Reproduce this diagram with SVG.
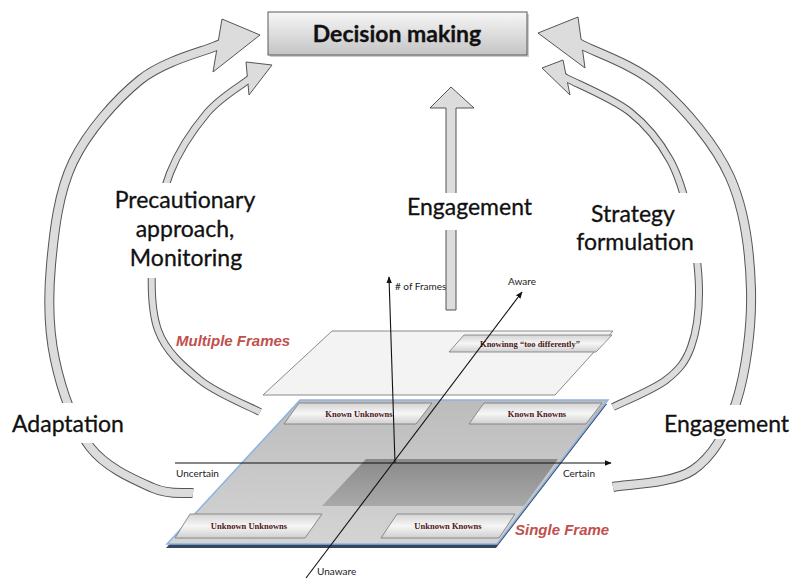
<svg xmlns="http://www.w3.org/2000/svg" width="792" height="581" viewBox="0 0 792 581">
<style>
.lbl{font-family:Lato,"Liberation Sans",sans-serif;font-size:23px;fill:#111;stroke:#111;stroke-width:0.3}
.bo{fill:none;stroke:#555;stroke-width:10;stroke-linejoin:round}
.bi{fill:none;stroke:#dcdcdc;stroke-width:8;stroke-linejoin:round}
.bo2{fill:none;stroke:#555;stroke-width:8;stroke-linejoin:round}
.bi2{fill:none;stroke:#dcdcdc;stroke-width:6;stroke-linejoin:round}
.head{fill:#dcdcdc;stroke:#555;stroke-width:1;stroke-linejoin:miter}
.gap{fill:#fff}
.tag{fill:url(#tagG);stroke:#777;stroke-width:0.8}
.tagt{font-family:"Liberation Serif",serif;font-weight:bold;font-size:8.5px;fill:#4b1515;text-anchor:middle}
.ax{stroke:#111;stroke-width:1.1;fill:none;marker-end:url(#ah)}
.axt{font-family:Lato,"Liberation Sans",sans-serif;font-size:10px;fill:#222}
.frame{font-family:"Liberation Sans",sans-serif;font-weight:bold;font-style:italic;font-size:15px;fill:#c0504d}
</style>
<defs>
<linearGradient id="boxG" x1="0" y1="0" x2="0" y2="1">
<stop offset="0" stop-color="#f7f7f7"/><stop offset="1" stop-color="#c4c4c4"/>
</linearGradient>
<linearGradient id="tagG" x1="0" y1="0" x2="0" y2="1">
<stop offset="0" stop-color="#d4d4d4"/><stop offset="0.5" stop-color="#f6f6f6"/><stop offset="1" stop-color="#d0d0d0"/>
</linearGradient>
<linearGradient id="planeG" x1="0" y1="0" x2="0" y2="1">
<stop offset="0" stop-color="#bcbcbc"/><stop offset="1" stop-color="#d4d4d4"/>
</linearGradient>
<linearGradient id="darkG" x1="0" y1="0" x2="0" y2="1">
<stop offset="0" stop-color="#8a8a8a"/><stop offset="1" stop-color="#a9a9a9"/>
</linearGradient>
<marker id="ah" viewBox="0 0 10 10" refX="9" refY="5" markerWidth="7" markerHeight="7" orient="auto" markerUnits="userSpaceOnUse">
<path d="M0,1 L10,5 L0,9 Z" fill="#111"/>
</marker>
</defs>
<rect width="792" height="581" fill="#fff"/>

<g id="single-frame">
<polygon points="299,404 607,404 496,548 166,548" fill="#34465e"/>
<polygon points="300,400 608,400 497,544 167,544" fill="url(#planeG)" stroke="#8db3e2" stroke-width="1.5"/>
<polygon points="366,459 558,459 524,506 322,506" fill="url(#darkG)"/>
<g id="tag-known-unknowns"><polygon class="tag" points="299,403 432,403 416,424 284,424"/><text class="tagt" x="359" y="417">Known Unknowns</text></g>
<g id="tag-known-knowns"><polygon class="tag" points="484,403 602,403 586,424 469,424"/><text class="tagt" x="537" y="417">Known Knowns</text></g>
<g id="tag-unknown-unknowns"><polygon class="tag" points="190,514 322,514 305,538 175,538"/><text class="tagt" x="249" y="529">Unknown Unknowns</text></g>
<g id="tag-unknown-knowns"><polygon class="tag" points="397,514 515,514 499,538 381,538"/><text class="tagt" x="448" y="529">Unknown Knowns</text></g>
<text class="frame" x="515" y="535">Single Frame</text>
</g>

<g id="multiple-frames">
<polygon points="332,331 613,331 555,395 263,395" fill="#f3f3f3" stroke="#8a8a8a" stroke-width="1"/>
<g id="tag-knowing"><polygon class="tag" points="464,335 612,335 596,352 449,352"/><text class="tagt" x="530" y="347">Knowinng “too differently”</text></g>
<text class="frame" x="176" y="346">Multiple Frames</text>
</g>

<g id="axes">
<line class="ax" x1="175" y1="463" x2="611" y2="463"/>
<line class="ax" x1="395" y1="463" x2="389" y2="277"/>
<line class="ax" x1="306" y1="578" x2="522" y2="292"/>
<text class="axt" x="176" y="477">Uncertain</text>
<text class="axt" x="563" y="477">Certain</text>
<text class="axt" x="395" y="290"># of Frames</text>
<text class="axt" x="508" y="285">Aware</text>
<text class="axt" x="317" y="575">Unaware</text>
</g>

<g id="connectors">
<g id="arrow-adaptation">
<path class="bo" d="M226,42 L216,46 C203.3,51.7 163.8,60.7 140,80 C116.2,99.3 87.8,131.2 73,162 C58.2,192.8 54,232 51,265 C48,298 48.5,329.7 55,360 C61.5,390.3 73.7,425.7 90,447 C106.3,468.3 135.8,480.3 153,488 C170.2,495.7 186.3,492.2 193,493"/>
<polygon class="head" points="222,19 260,35 213,72"/>
<path class="bi" d="M226,42 L216,46 C203.3,51.7 163.8,60.7 140,80 C116.2,99.3 87.8,131.2 73,162 C58.2,192.8 54,232 51,265 C48,298 48.5,329.7 55,360 C61.5,390.3 73.7,425.7 90,447 C106.3,468.3 135.8,480.3 153,488 C170.2,495.7 186.3,492.2 193,493"/>
</g>
<g id="arrow-precaution">
<path class="bo2" d="M254,75 L248,80 C241.2,85.5 220,97.5 207,113 C194,128.5 179,150.2 170,173 C161,195.8 155,223.8 153,250 C151,276.2 150.2,308.3 158,330 C165.8,351.7 183,366.3 200,380 C217,393.7 250,406.7 260,412"/>
<polygon class="head" points="246,62 272,65 249,95"/>
<path class="bi2" d="M254,75 L248,80 C241.2,85.5 220,97.5 207,113 C194,128.5 179,150.2 170,173 C161,195.8 155,223.8 153,250 C151,276.2 150.2,308.3 158,330 C165.8,351.7 183,366.3 200,380 C217,393.7 250,406.7 260,412"/>
</g>
<g id="arrow-engagement-right">
<path class="bo" d="M573,40 L582,45 C595,52 635.3,65 660,87 C684.7,109 714.8,143.2 730,177 C745.2,210.8 750,252.3 751,290 C752,327.7 745.7,373 736,403 C726.3,433 713.5,456 693,470 C672.5,484 626.3,484.2 613,487"/>
<polygon class="head" points="538,33 578,17 585,68"/>
<path class="bi" d="M573,40 L582,45 C595,52 635.3,65 660,87 C684.7,109 714.8,143.2 730,177 C745.2,210.8 750,252.3 751,290 C752,327.7 745.7,373 736,403 C726.3,433 713.5,456 693,470 C672.5,484 626.3,484.2 613,487"/>
</g>
<g id="arrow-strategy">
<path class="bo2" d="M559,74 L566,78 C576.7,83.7 612.7,98.3 630,112 C647.3,125.7 660,142 670,160 C680,178 685.2,198.3 690,220 C694.8,241.7 698.8,268.8 699,290 C699.2,311.2 696.5,332 691,347 C685.5,362 679,370 666,380 C653,390 621.8,402.5 613,407"/>
<polygon class="head" points="542,68 563,60 570,95"/>
<path class="bi2" d="M559,74 L566,78 C576.7,83.7 612.7,98.3 630,112 C647.3,125.7 660,142 670,160 C680,178 685.2,198.3 690,220 C694.8,241.7 698.8,268.8 699,290 C699.2,311.2 696.5,332 691,347 C685.5,362 679,370 666,380 C653,390 621.8,402.5 613,407"/>
</g>
<g id="arrow-engagement-up">
<polygon class="head" points="446,310 446,108 430,108 451,87 474,108 456,108 456,310"/>
</g>
</g>

<g id="label-adaptation">
<rect class="gap" x="5" y="403" width="123" height="40"/>
<text class="lbl" x="12" y="432">Adaptation</text>
</g>
<g id="label-precaution">
<rect class="gap" x="108" y="183" width="155" height="95"/>
<text class="lbl" text-anchor="middle" x="185" y="208">Precautionary</text>
<text class="lbl" text-anchor="middle" x="185" y="237">approach,</text>
<text class="lbl" text-anchor="middle" x="186" y="266">Monitoring</text>
</g>
<g id="label-strategy">
<rect class="gap" x="568" y="193" width="135" height="70"/>
<text class="lbl" text-anchor="middle" x="633" y="222">Strategy</text>
<text class="lbl" text-anchor="middle" x="635" y="250">formulation</text>
</g>
<g id="label-engagement-right">
<rect class="gap" x="660" y="405" width="132" height="34"/>
<text class="lbl" x="664" y="432">Engagement</text>
</g>
<g id="label-engagement-up">
<rect class="gap" x="405" y="193" width="135" height="37"/>
<text class="lbl" x="407" y="215">Engagement</text>
</g>

<g id="decision">
<rect x="270" y="14" width="259" height="43" fill="#999" opacity="0.5"/>
<rect x="268" y="12" width="259" height="43" fill="url(#boxG)" stroke="#5a5a5a" stroke-width="1"/>
<text class="lbl" x="397" y="42" text-anchor="middle" font-weight="bold" font-size="27">Decision making</text>
</g>
</svg>
